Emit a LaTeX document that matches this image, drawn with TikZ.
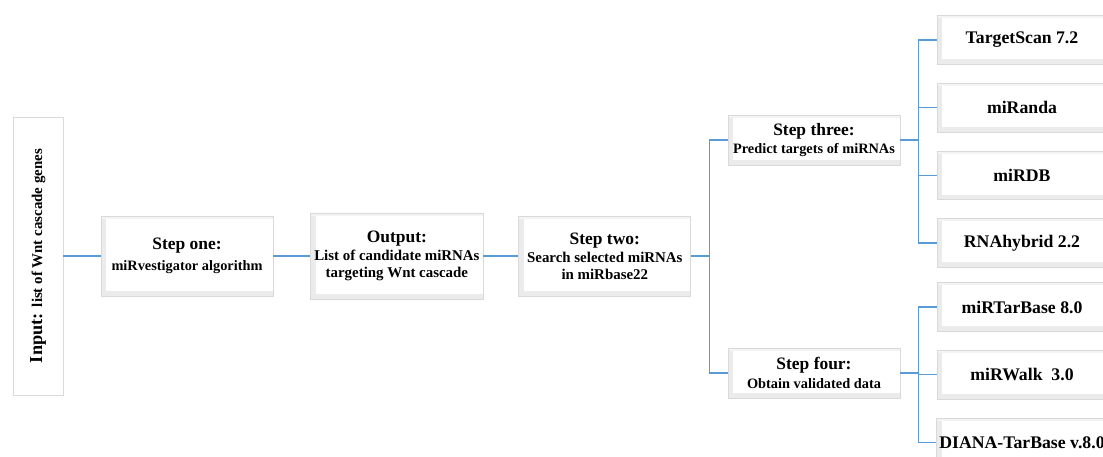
\documentclass[tikz,border=0pt]{standalone}
\usepackage{fontspec}
\setmainfont{Liberation Serif}
\usetikzlibrary{positioning}
\definecolor{linkblue}{RGB}{91,155,213}
\newcommand{\titlefont}{\fontsize{12.4}{14.5}\selectfont}
\newcommand{\subfont}{\fontsize{10.2}{12}\selectfont}

\begin{document}
\begin{tikzpicture}[
    x=0.025cm, y=-0.025cm,
    node distance=0.45cm and 0.9cm,
    box/.style={draw=gray!30, line width=0.6pt, fill=white, align=center,
                font=\bfseries, inner sep=2pt,
                path picture={
                  \fill[gray!16] (path picture bounding box.south west) rectangle
                    ([xshift=3.5pt]path picture bounding box.north west);
                  \fill[gray!16] (path picture bounding box.south west) rectangle
                    ([yshift=3.5pt]path picture bounding box.south east);
                  \fill[gray!9] (path picture bounding box.north west) rectangle
                    ([yshift=-2pt]path picture bounding box.north east);}},
    stepbox/.style={box, minimum width=4.3cm, minimum height=2cm},
    branch/.style={box, minimum width=4.3cm, minimum height=1.25cm},
    toolbox/.style={box, minimum width=4.25cm, minimum height=1.22cm,
                font=\bfseries\fontsize{12.6}{14.5}\selectfont},
    link/.style={draw=linkblue, line width=1pt}
]
\useasboundingbox (0,0) rectangle (1103,456);

\node[box, rotate=90, minimum width=6.95cm, minimum height=1.25cm] (input) at (38,256)
    {\fontsize{13}{15}\selectfont Input: \fontsize{10.6}{12}\selectfont list of Wnt cascade genes};
\node[stepbox] (stepone) at (187,256)
    {\titlefont Step one:\\[3pt] \subfont miRvestigator algorithm};
\node[stepbox, minimum height=2.15cm, right=0.925cm of stepone] (output)
    {\titlefont Output:\\[1pt] \fontsize{10.6}{12}\selectfont List of candidate miRNAs\\
     \fontsize{10.6}{12}\selectfont targeting Wnt cascade};
\node[stepbox, right=0.875cm of output] (steptwo)
    {\titlefont Step two:\\[1pt] \fontsize{10.6}{12}\selectfont Search selected miRNAs\\
     \fontsize{10.6}{12}\selectfont in miRbase22};

\node[branch] (three) at (814,140)
    {\titlefont Step three:\\[1pt] \subfont Predict targets of miRNAs};
\node[branch] (four) at (814,373)
    {\titlefont Step four:\\[2pt] \subfont Obtain validated data};

\node[toolbox] (tscan) at (1022,40) {TargetScan 7.2};
\node[toolbox, below=of tscan] (miranda) {miRanda};
\node[toolbox, below=of miranda] (mirdb) {miRDB};
\node[toolbox, below=of mirdb] (rnahyb) {RNAhybrid 2.2};

\node[toolbox] (mirtar) at (1022,307) {miRTarBase 8.0};
\node[toolbox, below=of mirtar] (mirwalk) {miRWalk\ \ 3.0};
\node[toolbox, below=of mirwalk] (diana) {DIANA-TarBase v.8.0};

\draw[link] (input) -- (stepone);
\draw[link] (stepone) -- (output);
\draw[link] (output) -- (steptwo);

\draw[link] (steptwo.east) -- ++(0.45cm,0) coordinate (forktwo);
\draw[link] (forktwo) |- (three.west);
\draw[link] (forktwo) |- (four.west);

\draw[link] (three.east) -- ++(0.45cm,0) coordinate (forkthree);
\draw[link] (forkthree) |- (tscan.west);
\draw[link] (forkthree) |- (miranda.west);
\draw[link] (forkthree) |- (mirdb.west);
\draw[link] (forkthree) |- (rnahyb.west);

\draw[link] (four.east) -- ++(0.45cm,0) coordinate (forkfour);
\draw[link] (forkfour) |- (mirtar.west);
\draw[link] (forkfour) |- (mirwalk.west);
\draw[link] (forkfour) |- (diana.west);

\end{tikzpicture}
\end{document}
